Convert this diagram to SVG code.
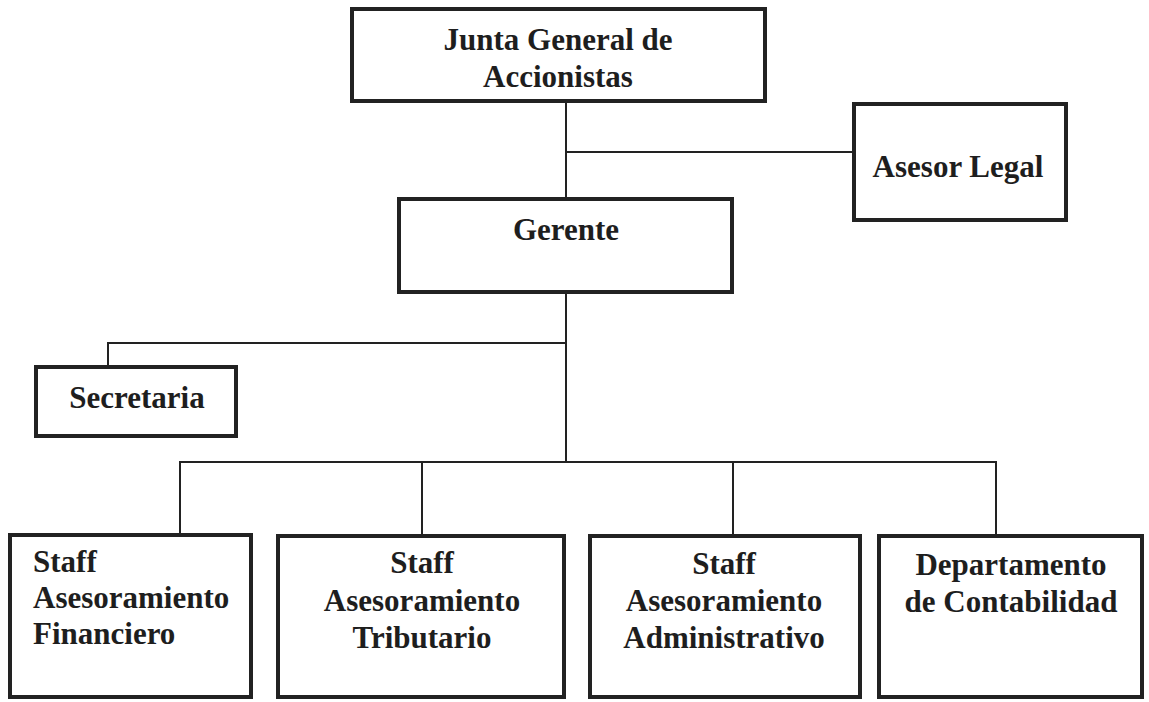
<svg xmlns="http://www.w3.org/2000/svg" width="1149" height="702" viewBox="0 0 1149 702">
<style>
.box{fill:#fff;stroke:#222;stroke-width:4}
.ln{fill:none;stroke:#222;stroke-width:2}
text{font-family:"Liberation Serif","Times New Roman",serif;font-weight:bold;font-size:31px;fill:#1e1e1e}
.c{text-anchor:middle}
</style>
<rect width="1149" height="702" fill="#fff"/>
<g id="connectors">
<path class="ln" d="M566,103 V197"/>
<path class="ln" d="M566,152 H852"/>
<path class="ln" d="M566,294 V462"/>
<path class="ln" d="M566,343 H108 V365"/>
<path class="ln" d="M180,534 V462 H996 V534"/>
<path class="ln" d="M422,462 V534"/>
<path class="ln" d="M733,462 V534"/>
</g>
<g id="junta">
<rect class="box" x="352" y="9" width="413" height="92"/>
<text class="c" x="558" y="50">Junta General de</text>
<text class="c" x="558" y="87">Accionistas</text>
</g>
<g id="asesor">
<rect class="box" x="854" y="104" width="212" height="116"/>
<text class="c" x="958" y="177" font-size="30">Asesor Legal</text>
</g>
<g id="gerente">
<rect class="box" x="399" y="199" width="333" height="93"/>
<text class="c" x="566" y="240">Gerente</text>
</g>
<g id="secretaria">
<rect class="box" x="36" y="367" width="200" height="69"/>
<text class="c" x="137" y="408">Secretaria</text>
</g>
<g id="financiero">
<rect class="box" x="10" y="535" width="241" height="162"/>
<text x="33" y="572" font-size="29.5">Staff</text>
<text x="33" y="608" font-size="29.5">Asesoramiento</text>
<text x="33" y="644" font-size="29.5">Financiero</text>
</g>
<g id="tributario">
<rect class="box" x="278" y="536" width="286" height="161"/>
<text class="c" x="422" y="573">Staff</text>
<text class="c" x="422" y="611">Asesoramiento</text>
<text class="c" x="422" y="648">Tributario</text>
</g>
<g id="administrativo">
<rect class="box" x="590" y="536" width="270" height="161"/>
<text class="c" x="724" y="574">Staff</text>
<text class="c" x="724" y="611">Asesoramiento</text>
<text class="c" x="724" y="648">Administrativo</text>
</g>
<g id="contabilidad">
<rect class="box" x="879" y="536" width="263" height="161"/>
<text class="c" x="1011" y="575">Departamento</text>
<text class="c" x="1011" y="612">de Contabilidad</text>
</g>
</svg>
